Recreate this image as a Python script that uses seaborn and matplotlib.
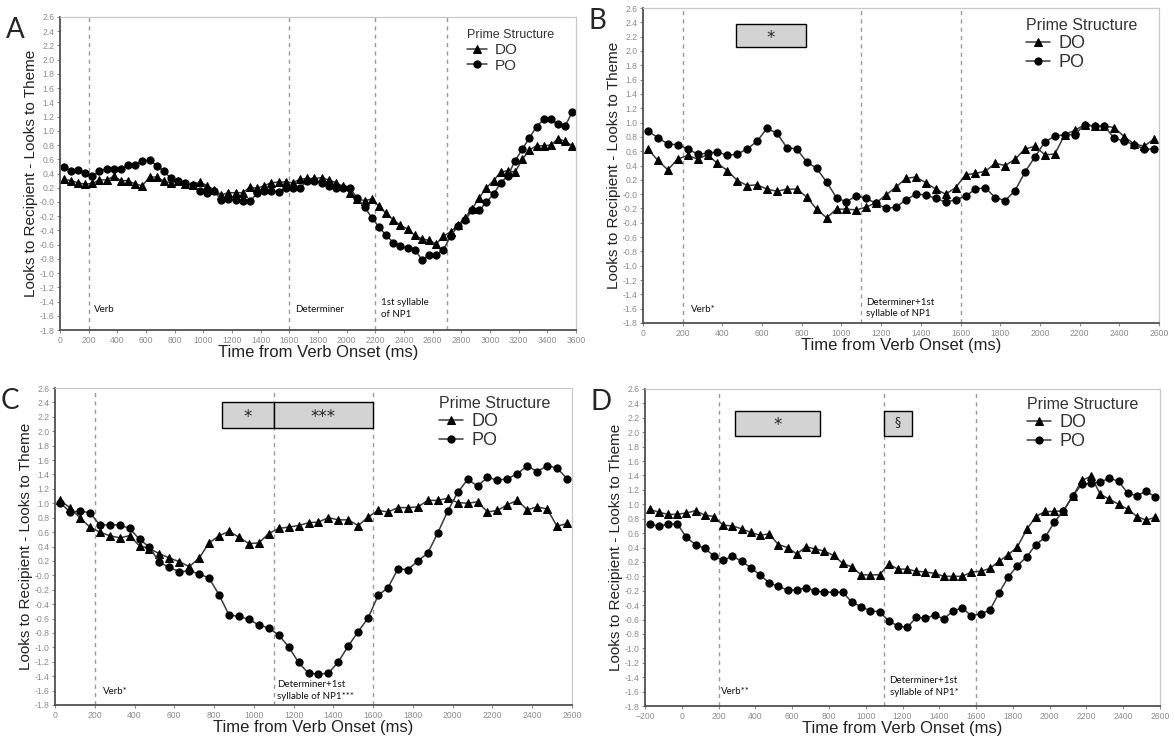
import numpy as np
import pandas as pd
import matplotlib
matplotlib.use("Agg")
import matplotlib.pyplot as plt
import seaborn as sns
from matplotlib.patches import Rectangle

# ---------------- data ----------------
# Panel A: bins of 50 ms, centres 25 .. 3575
a_time = list(range(25, 3600, 50))
a_do = [0.32, 0.30, 0.27, 0.25, 0.26, 0.31, 0.31, 0.36, 0.30, 0.30, 0.25, 0.23,
        0.35, 0.35, 0.29, 0.27, 0.30, 0.25, 0.24, 0.28, 0.23, 0.17, 0.10, 0.13,
        0.13, 0.13, 0.21, 0.19, 0.23, 0.27, 0.28, 0.28, 0.27, 0.32, 0.33, 0.33,
        0.34, 0.31, 0.27, 0.22, 0.12, 0.04, 0.02, 0.04, -0.06, -0.16, -0.25, -0.33,
        -0.38, -0.47, -0.52, -0.54, -0.59, -0.48, -0.42, -0.33, -0.22, -0.10, 0.06, 0.20,
        0.30, 0.42, 0.44, 0.42, 0.60, 0.73, 0.79, 0.79, 0.80, 0.89, 0.85, 0.79]
a_po = [0.49, 0.44, 0.45, 0.41, 0.36, 0.43, 0.47, 0.47, 0.47, 0.52, 0.52, 0.57,
        0.59, 0.51, 0.43, 0.33, 0.29, 0.26, 0.24, 0.15, 0.13, 0.15, 0.03, 0.04,
        0.03, 0.02, 0.01, 0.12, 0.16, 0.16, 0.14, 0.20, 0.19, 0.20, 0.30, 0.29,
        0.27, 0.22, 0.20, 0.20, 0.19, 0.05, -0.07, -0.22, -0.35, -0.47, -0.57, -0.62,
        -0.65, -0.67, -0.81, -0.75, -0.74, -0.67, -0.48, -0.34, -0.26, -0.12, -0.12, 0.00,
        0.11, 0.27, 0.37, 0.58, 0.74, 0.90, 1.06, 1.16, 1.16, 1.09, 1.07, 1.27]

# Panel B: centres 25 .. 2575
b_time = list(range(25, 2600, 50))
b_do = [0.63, 0.47, 0.34, 0.49, 0.54, 0.49, 0.55, 0.43, 0.33, 0.19, 0.12, 0.13,
        0.07, 0.04, 0.07, 0.07, -0.04, -0.21, -0.33, -0.21, -0.21, -0.22, -0.18, -0.12,
        -0.01, 0.10, 0.22, 0.24, 0.16, 0.07, 0.00, 0.09, 0.27, 0.29, 0.32, 0.43,
        0.40, 0.49, 0.63, 0.67, 0.55, 0.56, 0.83, 0.89, 0.97, 0.95, 0.95, 0.93,
        0.80, 0.70, 0.67, 0.77]
b_po = [0.88, 0.79, 0.70, 0.69, 0.63, 0.56, 0.57, 0.59, 0.54, 0.56, 0.63, 0.74,
        0.92, 0.85, 0.65, 0.63, 0.45, 0.36, 0.17, -0.05, -0.11, -0.02, -0.06, -0.13,
        -0.20, -0.18, -0.08, 0.00, -0.01, -0.06, -0.11, -0.08, -0.03, 0.07, 0.09, -0.05,
        -0.09, 0.05, 0.31, 0.52, 0.73, 0.81, 0.83, 0.83, 0.97, 0.95, 0.95, 0.78,
        0.74, 0.69, 0.63, 0.63]

# Panel C: centres 25 .. 2575
c_time = list(range(25, 2600, 50))
c_do = [1.04, 0.94, 0.80, 0.67, 0.60, 0.55, 0.52, 0.55, 0.41, 0.37, 0.30, 0.24,
        0.19, 0.12, 0.24, 0.45, 0.55, 0.61, 0.53, 0.44, 0.45, 0.58, 0.65, 0.67,
        0.69, 0.73, 0.74, 0.80, 0.77, 0.77, 0.69, 0.81, 0.90, 0.88, 0.94, 0.94,
        0.95, 1.04, 1.04, 1.07, 1.01, 1.00, 1.02, 0.88, 0.90, 0.98, 1.04, 0.91,
        0.95, 0.92, 0.68, 0.72]
c_po = [1.01, 0.88, 0.89, 0.87, 0.70, 0.70, 0.70, 0.65, 0.50, 0.39, 0.18, 0.11,
        0.05, 0.06, 0.02, -0.04, -0.27, -0.55, -0.57, -0.61, -0.69, -0.73, -0.83, -0.99,
        -1.21, -1.36, -1.37, -1.36, -1.20, -0.98, -0.78, -0.59, -0.28, -0.17, 0.09, 0.08,
        0.20, 0.31, 0.59, 0.89, 1.15, 1.33, 1.24, 1.36, 1.32, 1.34, 1.41, 1.52,
        1.44, 1.52, 1.49, 1.34]

# Panel D: centres -175 .. 2575
d_time = list(range(-175, 2600, 50))
d_do = [0.93, 0.89, 0.86, 0.86, 0.88, 0.91, 0.85, 0.83, 0.71, 0.70, 0.66, 0.61,
        0.57, 0.59, 0.44, 0.40, 0.31, 0.41, 0.38, 0.35, 0.29, 0.18, 0.13, 0.02,
        0.02, 0.02, 0.17, 0.10, 0.10, 0.07, 0.06, 0.04, 0.00, 0.00, 0.00, 0.06,
        0.07, 0.11, 0.21, 0.30, 0.41, 0.65, 0.83, 0.90, 0.90, 0.91, 1.11, 1.33,
        1.39, 1.14, 1.07, 1.00, 0.93, 0.83, 0.78, 0.82]
d_po = [0.72, 0.70, 0.72, 0.73, 0.54, 0.44, 0.39, 0.28, 0.22, 0.28, 0.21, 0.12,
        0.02, -0.09, -0.14, -0.19, -0.19, -0.16, -0.20, -0.22, -0.22, -0.22, -0.36, -0.42,
        -0.48, -0.49, -0.62, -0.69, -0.71, -0.57, -0.58, -0.54, -0.59, -0.48, -0.44, -0.55,
        -0.52, -0.47, -0.23, -0.01, 0.15, 0.27, 0.44, 0.54, 0.75, 0.91, 1.11, 1.28,
        1.29, 1.31, 1.36, 1.32, 1.15, 1.12, 1.18, 1.10]

# region boundaries and labels
a_bounds = [200, 1600, 2200, 2700]
bcd_bounds = [200, 1100, 1600]
a_labels = ["Verb", "Determiner", "1st syllable\nof NP1"]
a_label_x = [240, 1640, 2240]
a_label_y = [-1.51, -1.51, -1.50]
b_labels = ["Verb*", "Determiner+1st\nsyllable of NP1"]
b_label_x = [240, 1125]
b_label_y = [-1.61, -1.59]
c_labels = ["Verb*", "Determiner+1st\nsyllable of NP1***"]
c_label_x = [240, 1115]
c_label_y = [-1.61, -1.60]
d_labels = ["Verb**", "Determiner+1st\nsyllable of NP1*"]
d_label_x = [215, 1130]
d_label_y = [-1.60, -1.53]

# significance boxes: (x0, x1, y0, y1, text)
b_boxes = [(470, 820, 2.05, 2.38, "*")]
c_boxes = [(840, 1100, 2.05, 2.40, "*"), (1100, 1600, 2.05, 2.40, "***")]
d_boxes = [(290, 750, 1.95, 2.30, "*"), (1100, 1250, 1.95, 2.30, "\u00a7")]

sns.set_theme(style="white")
plt.rcParams['font.family'] = ['Liberation Sans', 'DejaVu Sans']

fig = plt.figure(figsize=(11.73, 7.38), dpi=100)
W, H = 1173, 738


def make_ax(l, r, t, b):
    return fig.add_axes([l / W, 1 - b / H, (r - l) / W, (b - t) / H])


axA = make_ax(60, 576, 17, 330)
axB = make_ax(643, 1159, 8, 323)
axC = make_ax(55, 572, 388, 705)
axD = make_ax(645, 1160, 389, 706)

yticks = np.round(np.arange(-1.8, 2.61, 0.2), 1)


def style(ax, xmin, xmax):
    ax.set_xlim(xmin, xmax)
    ax.set_ylim(-1.8, 2.6)
    ax.set_yticks(yticks)
    ax.set_yticklabels([f"{v:.1f}" for v in yticks])
    ax.set_xticks(np.arange(xmin, xmax + 1, 200))
    ax.tick_params(axis='both', labelsize=6.2, colors='#8c8c8c', length=2.5,
                   width=0.8, pad=1.5, left=True, bottom=True)
    for s in ['top', 'right']:
        ax.spines[s].set_color('#c8c8c8')
        ax.spines[s].set_linewidth(0.9)
    for s in ['left', 'bottom']:
        ax.spines[s].set_color('#505050')
        ax.spines[s].set_linewidth(1.3)
    ax.set_xlabel("Time from Verb Onset (ms)", fontsize=12, color='#222222', labelpad=0)
    ax.set_ylabel("Looks to Recipient - Looks to Theme", fontsize=11, color='#222222',
                  labelpad=1)


def draw(ax, t, do, po, xmin, xmax, bounds, labels, label_x, label_y, boxes, letter,
         title_fs, entry_fs, leg_anchor):
    df = pd.DataFrame({"time": t + t, "value": do + po,
                       "Prime Structure": ["DO"] * len(t) + ["PO"] * len(t)})
    sns.lineplot(data=df, x="time", y="value", hue="Prime Structure",
                 style="Prime Structure", markers={"DO": "^", "PO": "o"},
                 dashes=False, palette={"DO": "#3a3a3a", "PO": "#3a3a3a"},
                 markersize=5.2, markeredgecolor='black', markerfacecolor='black',
                 linewidth=1.1, ax=ax)
    for bx in bounds:
        ax.axvline(bx, color='#9a9a9a', linestyle=(0, (3, 3)), linewidth=1.0, zorder=0)
    for lab, lx, ly in zip(labels, label_x, label_y):
        ax.text(lx, ly, lab, fontsize=7, family=['Lato', 'DejaVu Sans'], color='#111111',
                va='center', ha='left', linespacing=1.35)
    for (x0, x1, y0, y1, txt) in boxes:
        ax.add_patch(Rectangle((x0, y0), x1 - x0, y1 - y0, facecolor='#d3d3d3',
                               edgecolor='black', linewidth=1.0, zorder=3))
        if txt == "\u00a7":
            ax.text((x0 + x1) / 2, (y0 + y1) / 2 + 0.02, txt, ha='center', va='center',
                    fontsize=9, family=['DejaVu Sans'], zorder=4)
        else:
            ax.text((x0 + x1) / 2, (y0 + y1) / 2 - 0.03, txt, ha='center', va='center',
                    fontsize=12, family=['DejaVu Sans'], zorder=4)
    style(ax, xmin, xmax)
    leg = ax.legend(title="Prime Structure", loc='upper right', frameon=False,
                    fontsize=entry_fs, title_fontsize=title_fs, handlelength=1.3,
                    handletextpad=0.5, labelspacing=0.1,
                    bbox_to_anchor=leg_anchor, alignment='left')
    leg.get_title().set_color('#333333')
    for txt in leg.get_texts():
        txt.set_color('#333333')
    ax.text(-0.105, 1.0, letter, transform=ax.transAxes, fontsize=20,
            family=['Lato', 'DejaVu Sans'], va='top', ha='left')


draw(axA, a_time, a_do, a_po, 0, 3600, a_bounds, a_labels, a_label_x, a_label_y, [],
     "A", 9, 11, (0.985, 1.004))
draw(axB, b_time, b_do, b_po, 0, 2600, bcd_bounds, b_labels, b_label_x, b_label_y, b_boxes,
     "B", 11.5, 13, (0.99, 1.019))
draw(axC, c_time, c_do, c_po, 0, 2600, bcd_bounds, c_labels, c_label_x, c_label_y, c_boxes,
     "C", 11.5, 13, (0.99, 1.025))
draw(axD, d_time, d_do, d_po, -200, 2600, bcd_bounds, d_labels, d_label_x, d_label_y, d_boxes,
     "D", 11.5, 13, (0.99, 1.025))

fig.savefig("out.png", dpi=100)
